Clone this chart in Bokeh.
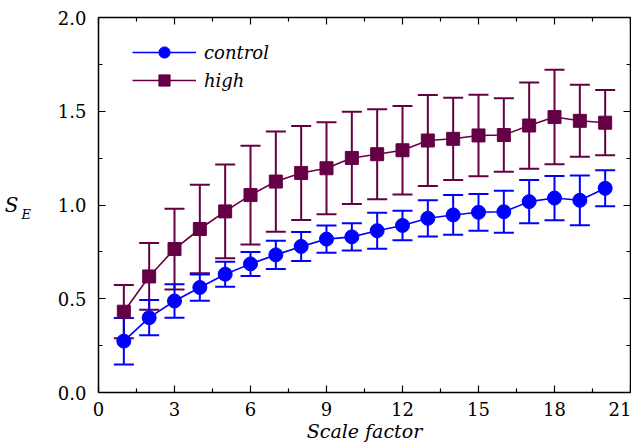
import numpy as np
from bokeh.plotting import figure
from bokeh.models import (ColumnDataSource, Whisker, TeeHead, Range1d, FixedTicker,
                          LinearAxis, PrintfTickFormatter, Legend, LegendItem)
from bokeh.embed import file_html
from bokeh.resources import INLINE

# ---- data ----
scale = list(range(1, 21))
control = [0.274, 0.399, 0.488, 0.560, 0.631, 0.686, 0.734, 0.779, 0.818, 0.830,
           0.863, 0.891, 0.929, 0.947, 0.961, 0.964, 1.018, 1.037, 1.025, 1.089]
control_err = [0.124, 0.094, 0.089, 0.070, 0.067, 0.064, 0.075, 0.077, 0.073, 0.073,
               0.096, 0.079, 0.097, 0.106, 0.098, 0.112, 0.115, 0.118, 0.133, 0.096]
high = [0.431, 0.619, 0.765, 0.872, 0.966, 1.053, 1.125, 1.171, 1.196, 1.251,
        1.271, 1.292, 1.344, 1.353, 1.371, 1.373, 1.424, 1.469, 1.449, 1.439]
high_err = [0.142, 0.178, 0.215, 0.236, 0.250, 0.263, 0.267, 0.251, 0.245, 0.246,
            0.240, 0.236, 0.243, 0.219, 0.217, 0.196, 0.230, 0.252, 0.192, 0.174]
x_ticks = [0, 3, 6, 9, 12, 15, 18, 21]
x_minor = [1.5, 4.5, 7.5, 10.5, 13.5, 16.5, 19.5]
y_ticks = [0.0, 0.5, 1.0, 1.5, 2.0]
y_minor = [0.25, 0.75, 1.25, 1.75]

BLUE = "#0000ff"
PURPLE = "#650045"
FONT = "DejaVu Serif"

c_src = ColumnDataSource(dict(x=scale, y=control,
                              lower=np.array(control) - np.array(control_err),
                              upper=np.array(control) + np.array(control_err)))
h_src = ColumnDataSource(dict(x=scale, y=high,
                              lower=np.array(high) - np.array(high_err),
                              upper=np.array(high) + np.array(high_err)))

p = figure(width=631, height=444, output_backend="svg", toolbar_location=None,
           x_range=Range1d(0, 21), y_range=Range1d(0, 2),
           min_border_left=98, min_border_right=1, min_border_top=17, min_border_bottom=50)
p.outline_line_color = None
p.grid.visible = False
p.background_fill_color = "white"
p.border_fill_color = "white"


def style_axis(ax, ticks, labels=True, standoff=5):
    ax.axis_line_width = 1.5
    ax.axis_line_color = "black"
    ax.major_tick_in = 7
    ax.major_tick_out = 0
    ax.minor_tick_in = 4
    ax.minor_tick_out = 0
    ax.major_tick_line_width = 1.2
    ax.minor_tick_line_width = 1.2
    ax.major_tick_line_color = "black"
    ax.minor_tick_line_color = "black"
    if labels:
        ax.major_label_text_font = FONT
        ax.major_label_text_font_size = "18px"
        ax.major_label_text_color = "black"
        ax.major_label_standoff = standoff
    else:
        ax.major_label_overrides = {t: "" for t in ticks}
        ax.major_label_standoff = 0


p.xaxis.ticker = FixedTicker(ticks=x_ticks, minor_ticks=x_minor)
p.yaxis.ticker = FixedTicker(ticks=y_ticks, minor_ticks=y_minor)
p.yaxis.formatter = PrintfTickFormatter(format="%.1f")
style_axis(p.xaxis[0], x_ticks, standoff=9)
style_axis(p.yaxis[0], y_ticks, standoff=12)

p.xaxis.axis_label = "Scale factor"
p.xaxis.axis_label_text_font = FONT
p.xaxis.axis_label_text_font_size = "19px"
p.xaxis.axis_label_text_font_style = "italic"
p.xaxis.axis_label_text_color = "black"
p.xaxis.axis_label_standoff = 1

# y label: "S" with subscript "E"
yax = p.yaxis[0]
yax.axis_label = "\nE"
yax.axis_label_orientation = "horizontal"
yax.axis_label_text_font = FONT
yax.axis_label_text_font_size = "13px"
yax.axis_label_text_font_style = "italic"
yax.axis_label_text_color = "black"
yax.axis_label_standoff = 24

s_ax = LinearAxis(ticker=FixedTicker(ticks=[]), axis_label="S",
                  axis_label_orientation="horizontal", axis_label_text_font=FONT,
                  axis_label_text_font_size="20px", axis_label_text_font_style="italic",
                  axis_label_text_color="black", axis_label_standoff=0,
                  axis_line_color=None, major_tick_line_color=None,
                  minor_tick_line_color=None, major_label_standoff=0)
p.add_layout(s_ax, "left")

top_ax = LinearAxis(ticker=FixedTicker(ticks=x_ticks, minor_ticks=x_minor))
style_axis(top_ax, x_ticks, labels=False)
p.add_layout(top_ax, "above")
right_ax = LinearAxis(ticker=FixedTicker(ticks=y_ticks, minor_ticks=y_minor))
style_axis(right_ax, y_ticks, labels=False)
p.add_layout(right_ax, "right")

# error bars
for src, col in ((h_src, PURPLE), (c_src, BLUE)):
    w = Whisker(base="x", lower="lower", upper="upper", source=src, dimension="height",
                line_color=col, line_width=2, level="underlay",
                upper_head=TeeHead(size=20, line_color=col, line_width=2),
                lower_head=TeeHead(size=20, line_color=col, line_width=2))
    p.add_layout(w)

hl = p.line("x", "y", source=h_src, line_color=PURPLE, line_width=1.6)
hs = p.scatter("x", "y", source=h_src, marker="square", size=13,
               fill_color=PURPLE, line_color=PURPLE)
cl = p.line("x", "y", source=c_src, line_color=BLUE, line_width=1.6)
cs = p.scatter("x", "y", source=c_src, marker="circle", size=14,
               fill_color=BLUE, line_color=BLUE)

legend = Legend(items=[LegendItem(label="control", renderers=[cl, cs]),
                       LegendItem(label="high", renderers=[hl, hs])],
                location=(34, 298), margin=0, padding=0, spacing=0,
                glyph_width=64, glyph_height=28, label_height=28, label_standoff=8,
                label_text_font=FONT, label_text_font_size="18px",
                label_text_font_style="italic", label_text_color="black",
                border_line_color=None, background_fill_alpha=0)
p.add_layout(legend)

open("out.html", "w").write(file_html(p, INLINE))
